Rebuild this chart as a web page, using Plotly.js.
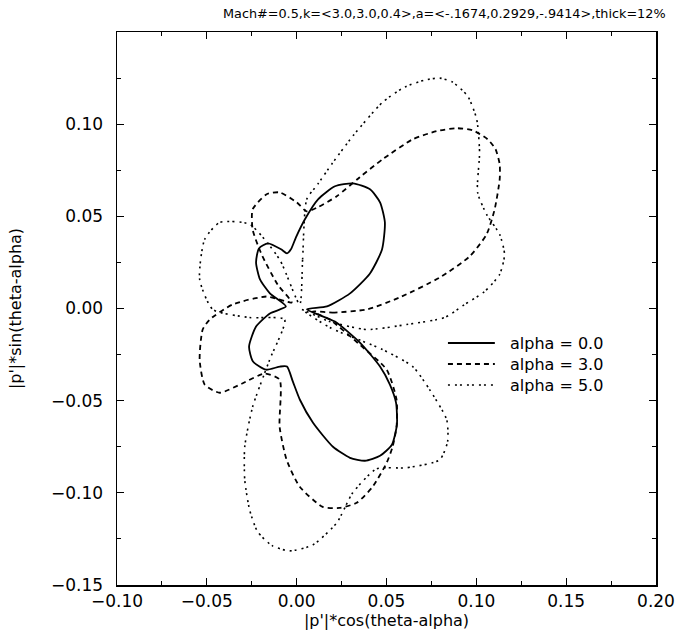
<!DOCTYPE html>
<html><head><meta charset="utf-8">
<script src="https://cdn.plot.ly/plotly-3.0.1.min.js"></script>
<style>html,body{margin:0;padding:0;background:#fff}</style>
</head><body><div id="chart" style="width:681px;height:633px"></div>
<script>
const seriesNames = ["alpha = 0.0", "alpha = 3.0", "alpha = 5.0"];

const x_a0 = [0.0057,0.0169,0.0297,0.0408,0.0475,0.0491,0.0464,0.0408,0.0313,0.0213,0.0119,0.0046,-0.0004,-0.0032,-0.0054,-0.0087,-0.0160,-0.0210,-0.0226,-0.0204,-0.0149,-0.0060,-0.0149,-0.0226,-0.0265,-0.0243,-0.0171,-0.0093,-0.0054,-0.0021,0.0018,0.0091,0.0202,0.0297,0.0380,0.0464,0.0530,0.0558,0.0553,0.0519,0.0464,0.0352,0.0213,0.0057];
const y_a0 = [-0.0005,0.0011,0.0082,0.0190,0.0320,0.0467,0.0576,0.0647,0.0679,0.0663,0.0592,0.0484,0.0386,0.0321,0.0299,0.0321,0.0353,0.0326,0.0250,0.0158,0.0082,0.0011,-0.0027,-0.0098,-0.0207,-0.0288,-0.0332,-0.0315,-0.0315,-0.0397,-0.0495,-0.0620,-0.0750,-0.0810,-0.0826,-0.0799,-0.0739,-0.0630,-0.0511,-0.0413,-0.0315,-0.0185,-0.0071,-0.0005];

const x_a3 = [0.0089,0.0200,0.0390,0.0573,0.0796,0.0963,0.1057,0.1102,0.1130,0.1130,0.1107,0.1063,0.0979,0.0890,0.0779,0.0646,0.0479,0.0351,0.0223,0.0117,0.0056,0.0000,-0.0095,-0.0167,-0.0245,-0.0245,-0.0195,-0.0106,-0.0028,-0.0167,-0.0356,-0.0484,-0.0523,-0.0540,-0.0512,-0.0428,-0.0306,-0.0178,-0.0095,-0.0095,-0.0056,0.0017,0.0145,0.0239,0.0334,0.0423,0.0501,0.0534,0.0556,0.0556,0.0501,0.0351,0.0184,0.0089];
const y_a3 = [-0.0016,-0.0022,-0.0005,0.0060,0.0168,0.0283,0.0402,0.0538,0.0701,0.0783,0.0864,0.0918,0.0967,0.0978,0.0962,0.0918,0.0810,0.0712,0.0609,0.0549,0.0527,0.0576,0.0630,0.0620,0.0538,0.0429,0.0293,0.0130,0.0033,0.0065,0.0022,-0.0060,-0.0114,-0.0277,-0.0413,-0.0457,-0.0408,-0.0353,-0.0386,-0.0641,-0.0821,-0.0967,-0.1076,-0.1082,-0.1054,-0.0967,-0.0837,-0.0750,-0.0641,-0.0495,-0.0332,-0.0196,-0.0060,-0.0016];

const x_a5 = [0.0017,0.0033,0.0056,0.0117,0.0195,0.0312,0.0479,0.0601,0.0712,0.0796,0.0868,0.0952,0.1002,0.1018,0.1007,0.1057,0.1130,0.1157,0.1130,0.1046,0.0935,0.0824,0.0612,0.0390,0.0184,0.0028,0.0184,0.0479,0.0646,0.0740,0.0835,0.0840,0.0796,0.0612,0.0445,0.0312,0.0223,0.0089,-0.0039,-0.0134,-0.0217,-0.0262,-0.0289,-0.0289,-0.0245,-0.0150,-0.0067,-0.0262,-0.0467,-0.0540,-0.0512,-0.0428,-0.0262,-0.0095,0.0017];
const y_a5 = [0.0022,0.0266,0.0592,0.0674,0.0783,0.0935,0.1120,0.1201,0.1239,0.1250,0.1228,0.1152,0.1027,0.0848,0.0630,0.0511,0.0402,0.0293,0.0185,0.0092,0.0022,-0.0049,-0.0087,-0.0114,-0.0071,-0.0005,-0.0103,-0.0223,-0.0315,-0.0440,-0.0603,-0.0723,-0.0821,-0.0864,-0.0870,-0.1000,-0.1163,-0.1283,-0.1315,-0.1288,-0.1212,-0.1092,-0.0929,-0.0750,-0.0533,-0.0277,-0.0060,-0.0049,-0.0005,0.0158,0.0375,0.0467,0.0457,0.0266,0.0022];

const xTickVals = [-0.10,-0.05,0.00,0.05,0.10,0.15,0.20];
const yTickVals = [-0.15,-0.10,-0.05,0.00,0.05,0.10];

const dashStyles = ["solid", "5px,4px", "2px,5px,2px,3px"];
const lineWidths = [1.8, 1.8, 1.6];

const fam = "DejaVu Sans, Liberation Sans, sans-serif";
const tickFont = {family: fam, size: 17, color: "#000"};

const traces = seriesNames.map((n, i) => ({
  x: [x_a0, x_a3, x_a5][i], y: [y_a0, y_a3, y_a5][i], name: n, mode: "lines",
  line: {color: "#000", width: lineWidths[i], dash: dashStyles[i], shape: "spline", smoothing: 0.6}
}));

const axisCommon = {
  showgrid: false, zeroline: false, showline: true, linecolor: "#000", linewidth: 1.5,
  mirror: "ticks", ticks: "inside", ticklen: 7, tickwidth: 1, tickcolor: "#000",
  tickfont: tickFont, tickformat: ".2f"
};

// manual legend: line samples as shapes, labels as one multi-line annotation
const legX0 = 0.614, legX1 = 0.701, legTextX = 0.725;
const legY = [0.4376, 0.3996, 0.3617];
const shapes = seriesNames.map((n, i) => ({
  type: "line", xref: "paper", yref: "paper", x0: legX0, x1: legX1, y0: legY[i], y1: legY[i],
  line: {color: "#000", width: lineWidths[i], dash: dashStyles[i]}
}));
const annotations = [{
  text: seriesNames.join("<br>"), xref: "paper", yref: "paper", x: legTextX, y: legY[1],
  xanchor: "left", yanchor: "middle", align: "left",
  showarrow: false, font: {family: fam, size: 16, color: "#000"}
}, {
  text: "Mach#=0.5,k=<3.0,3.0,0.4>,a=<-.1674,0.2929,-.9414>,thick=12%",
  xref: "paper", yref: "paper", x: 1.0223, y: 1.034, xanchor: "right", yanchor: "middle",
  showarrow: false, font: {family: fam, size: 12.8, color: "#000"}
}];

const layout = {
  width: 681, height: 633,
  margin: {l: 117, r: 25, t: 32, b: 48},
  paper_bgcolor: "#fff", plot_bgcolor: "#fff",
  showlegend: false,
  shapes: shapes,
  annotations: annotations,
  xaxis: Object.assign({}, axisCommon, {range: [-0.10, 0.20], tickvals: xTickVals,
          minor: {ticks: "inside", ticklen: 4, tickcolor: "#000", tickwidth: 1, dtick: 0.025},
          title: {text: "|p'|*cos(theta-alpha)", standoff: 2, font: {family: fam, size: 16, color: "#000"}}}),
  yaxis: Object.assign({}, axisCommon, {range: [-0.15, 0.15], tickvals: yTickVals, ticklabelstandoff: 9,
          minor: {ticks: "inside", ticklen: 4, tickcolor: "#000", tickwidth: 1, dtick: 0.025},
          title: {text: "|p'|*sin(theta-alpha)", standoff: 25, font: {family: fam, size: 16, color: "#000"}}})
};

Plotly.newPlot("chart", traces, layout, {displayModeBar: false, staticPlot: true});
</script></body></html>
